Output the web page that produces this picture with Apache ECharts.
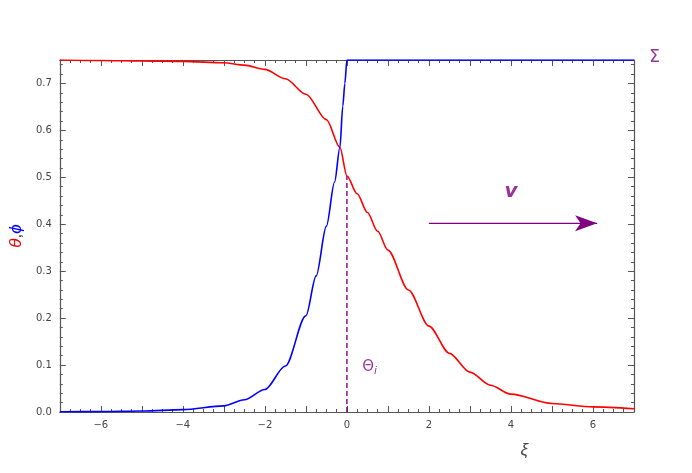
<!DOCTYPE html>
<html><head><meta charset="utf-8">
<script src="https://cdn.jsdelivr.net/npm/echarts@6/dist/echarts.min.js"></script>
<style>html,body{margin:0;padding:0;background:#fff}#c{width:692px;height:473px}</style>
</head><body><div id="c"></div>
<script>
const thetaX = [-7,-6,-5,-4,-3,-2.5,-2,-1.5,-1,-0.5,-0.17,0,0.25,0.5,0.75,1,1.5,2,2.5,3,3.5,4,5,6,7];
const thetaY = [0.75,0.749,0.748,0.747,0.744,0.739,0.73,0.71,0.677,0.623,0.564,0.503,0.465,0.425,0.385,0.345,0.26,0.183,0.125,0.085,0.057,0.038,0.018,0.011,0.007];
const phiX = [-7,-6,-5,-4,-3,-2.5,-2,-1.5,-1,-0.75,-0.5,-0.3,-0.17,-0.1,-0.05,0,0.5,2,4,6,7];
const phiY = [0.0005,0.001,0.002,0.005,0.013,0.026,0.048,0.098,0.205,0.29,0.396,0.49,0.564,0.652,0.70,0.75,0.75,0.75,0.75,0.75,0.75];
const xTicks = [-6,-4,-2,0,2,4,6];
const yTicks = [0,0.1,0.2,0.3,0.4,0.5,0.6,0.7];
const interfaceLine = [[0,0],[0,0.503]];
const arrowLine = [[2,0.402],[6.1,0.402]];
const labels = [{text:'v', at:[4,0.47]},{text:'Θ', at:[0.55,0.095]},{text:'Σ', at:[7.5,0.755]}];
const purple = '#800080';
const toPairs = (xs, ys) => xs.map((x,i)=>[x,ys[i]]);
const axisCommon = (n) => ({
  axisLine:{onZero:false,lineStyle:{color:'#555',width:1.2}},
  axisTick:{inside:true,length:6,lineStyle:{color:'#555'}},
  minorTick:{show:true,splitNumber:n,length:3,lineStyle:{color:'#555'}},
  splitLine:{show:false}
});
const chart = echarts.init(document.getElementById('c'));
chart.setOption({
  animation:false,
  grid:{left:58,right:58,top:60,bottom:61},
  xAxis:[
    Object.assign({type:'value',min:-7,max:7,interval:1,position:'bottom',
      axisLabel:{color:'#444',fontSize:10,fontFamily:'DejaVu Sans',margin:8,showMinLabel:false,showMaxLabel:false,
        formatter:v=>xTicks.includes(v)?String(v).replace('-','−'):''},
      name:'ξ',nameLocation:'middle',nameGap:30,
      nameTextStyle:{fontStyle:'italic',fontSize:17,color:'#444',padding:[0,0,0,355]}},axisCommon(4)),
    Object.assign({type:'value',min:-7,max:7,interval:1,position:'top',axisLabel:{show:false}},axisCommon(4))
  ],
  yAxis:[
    Object.assign({type:'value',min:0,max:0.75,interval:0.1,position:'left',
      axisLabel:{color:'#444',fontSize:10,fontFamily:'DejaVu Sans',margin:8,
        formatter:v=>yTicks.some(t=>Math.abs(t-v)<1e-9)?v.toFixed(1):''},
      name:'{r|θ}{k|,}{b|ϕ}',nameLocation:'middle',nameGap:30,nameRotate:90,
      nameTextStyle:{rich:{r:{color:'#e00',fontSize:17,fontStyle:'italic'},k:{color:'#444',fontSize:17},b:{color:'#00f',fontSize:17,fontStyle:'italic'}}}},axisCommon(5)),
    Object.assign({type:'value',min:0,max:0.75,interval:0.1,position:'right',axisLabel:{show:false}},axisCommon(5))
  ],
  series:[
    {type:'line',data:toPairs(thetaX,thetaY),smooth:0.3,smoothMonotone:'x',showSymbol:false,lineStyle:{color:'#f00',width:1.6},z:3},
    {type:'line',data:toPairs(phiX,phiY),smooth:0.3,smoothMonotone:'x',showSymbol:false,lineStyle:{color:'#00f',width:1.6},z:4},
    {type:'line',data:interfaceLine,showSymbol:false,lineStyle:{color:purple,width:1.4,type:[5,3]},z:2},
    {type:'line',data:arrowLine,showSymbol:false,lineStyle:{color:purple,width:1.2},z:2,
      markLine:{silent:true,symbol:['none','arrow'],symbolSize:[12,22],lineStyle:{color:purple,width:1.2,type:'solid'},label:{show:false},
        data:[[{coord:arrowLine[0]},{coord:arrowLine[1]}]]}},
    {type:'scatter',clip:false,data:labels.map(l=>({value:l.at,name:l.text})),symbolSize:0,
      label:{show:true,position:'inside',color:purple,
        formatter:p=>p.name==='v'?'{v|v}':(p.name==='Σ'?'{g|Σ}':'{t|Θ}{s|i}'),
        rich:{v:{fontSize:20,fontWeight:'bold',fontStyle:'italic',color:purple,fontFamily:'DejaVu Sans'},
              g:{fontSize:17,color:purple,fontFamily:'DejaVu Sans'},
              t:{fontSize:15,color:purple,fontFamily:'DejaVu Sans'},
              s:{fontSize:11,fontStyle:'italic',color:purple,verticalAlign:'bottom',padding:[8,0,0,0]}}}}
  ]
});
</script></body></html>
